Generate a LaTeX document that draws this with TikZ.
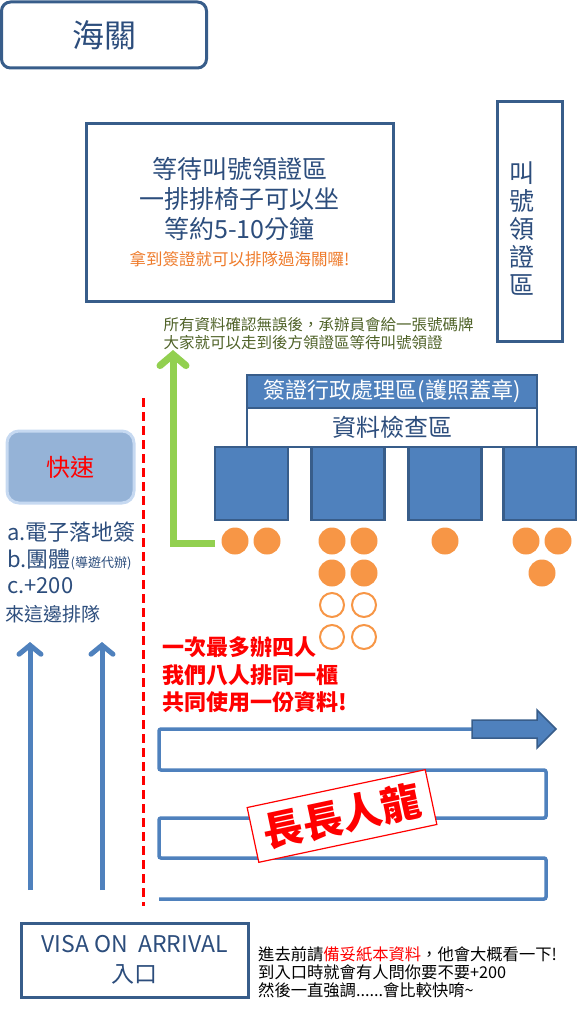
\documentclass[tikz,border=0pt]{standalone}
\usepackage{fontspec}
\setmainfont{Noto Sans CJK TC}
\usetikzlibrary{arrows.meta,positioning}
\definecolor{boxblue}{HTML}{385D8A}
\definecolor{fillblue}{HTML}{4F81BD}
\definecolor{textblue}{HTML}{2C4D7C}
\definecolor{lightblue}{HTML}{95B3D7}
\definecolor{paleblue}{HTML}{C6D9F1}
\definecolor{personorange}{HTML}{F79646}
\definecolor{noteorange}{HTML}{EE7B2B}
\definecolor{arrowgreen}{HTML}{92D050}
\definecolor{notegreen}{HTML}{4F6228}

\begin{document}
\begin{tikzpicture}[x=1pt,y=-1pt]
      \tikzset{frame/.style={draw=boxblue,
          line width=3pt,
          inner sep=0pt,
          text=textblue},
        desk/.style={fill=fillblue,
          draw=boxblue,
          line width=2.5pt,
          minimum width=73pt,
          minimum height=73pt},
        person/.style={circle,
          fill=personorange,
          inner sep=0pt,
          minimum size=27pt},
        waiting/.style={circle,
          draw=personorange,
          line width=2pt,
          inner sep=0pt,
          minimum size=24pt},
        upline/.style={draw=fillblue,
          line width=5pt,
          -{Straight Barb[length=9pt,width=22pt,line cap=round]}}
      }
      \useasboundingbox (0,0) rectangle (576,1024);

      \node [frame,rounded corners=9pt,minimum width=205pt,minimum height=66pt,
        font=\fontsize{32}{36}\selectfont] (customs) at (104,35) {海關};
      \node [frame,minimum width=307pt,minimum height=177pt,align=center,
        font=\fontsize{25}{30}\selectfont] (hall) at (239.5,212.5)
        {等待叫號領證區\\一排排椅子可以坐\\等約5-10分鐘\\[-3pt]
         {\fontsize{16.5}{20}\selectfont\color{noteorange}拿到簽證就可以排隊過海關囉!}};
      \node [frame,minimum width=65pt,minimum height=239pt] (pickup) at (529.5,221.5) {};
      \node [align=center,text=textblue,inner sep=0pt,
        font=\fontsize{25}{28}\selectfont] (pickup text) at (522,229)
        {叫\\號\\領\\證\\區};

      \node [anchor=west,align=left,text=notegreen,
        font=\fontsize{15.5}{18}\selectfont] (afterdesk) at (160,334)
        {所有資料確認無誤後，承辦員會給一張號碼牌\\大家就可以走到後方領證區等待叫號領證};

      \node [frame,fill=fillblue,line width=2.5pt,text=white,minimum width=290pt,
        minimum height=33pt,font=\fontsize{22}{26}\selectfont] (stamp office) at (392,391.5)
        {簽證行政處理區(護照蓋章)};
      \node [frame,fill=white,line width=2.5pt,minimum width=290pt,minimum height=39pt,
        font=\fontsize{24}{28}\selectfont] (check) at (392,427.5) {資料檢查區};

      \node [desk] (desk1) at (251.5,483.5) {};
      \node [desk] (desk2) at (348,483.5) {};
      \node [desk] (desk3) at (445,483.5) {};
      \node [desk] (desk4) at (540,483.5) {};

      \node [person] (p11) at (235,541) {};
      \node [person] (p12) at (267,541) {};
      \node [person] (p21) at (332,541) {};
      \node [person] (p22) at (364,541) {};
      \node [person] (p23) at (332,573) {};
      \node [person] (p24) at (364,573) {};
      \node [waiting] (p25) at (332,605) {};
      \node [waiting] (p26) at (364,605) {};
      \node [waiting] (p27) at (332,637) {};
      \node [waiting] (p28) at (364,637) {};
      \node [person] (p31) at (445,541) {};
      \node [person] (p41) at (526,541) {};
      \node [person] (p42) at (558,541) {};
      \node [person] (p43) at (542,573) {};

      \coordinate (done) at (215,543);
      \coordinate (togo) at (173,350);
      \draw [arrowgreen,line width=7pt,
        -{Straight Barb[length=11pt,width=26pt,line cap=round]}] (done) -| (togo);

      \coordinate (septop) at (143,398);
      \coordinate (sepbottom) at (143,906);
      \draw [red,line width=3pt,dash pattern=on 9pt off 5pt] (septop) -- (sepbottom);

      \node [draw=paleblue,fill=lightblue,line width=3pt,rounded corners=12pt,
        minimum width=127pt,minimum height=72pt,text=red,
        font=\fontsize{24}{28}\selectfont] (fast) at (70.5,467) {快速};
      \node [anchor=west,text=textblue,font=\fontsize{22}{26}\selectfont,inner sep=0pt]
        (fasta) at (7,532) {a.電子落地簽};
      \node [anchor=west,text=textblue,font=\fontsize{22}{26}\selectfont,inner sep=0pt]
        (fastb) at (7,560) {b.團體{\fontsize{13}{16}\selectfont(導遊代辦)}};
      \node [anchor=west,text=textblue,font=\fontsize{22}{26}\selectfont,inner sep=0pt]
        (fastc) at (7,586) {c.+200};
      \node [anchor=west,text=textblue,font=\fontsize{19}{22}\selectfont,inner sep=0pt]
        (fastd) at (5,614) {來這邊排隊};

      \coordinate (lane1in) at (30,890);
      \coordinate (lane1out) at (30,642);
      \coordinate (lane2in) at (102,890);
      \coordinate (lane2out) at (102,642);
      \draw [upline] (lane1in) -- (lane1out);
      \draw [upline] (lane2in) -- (lane2out);

      \node [anchor=west,align=left,text=red,inner sep=0pt,
        font=\bfseries\fontsize{22}{27.5}\selectfont] (rule) at (162,675)
        {一次最多辦四人\\我們八人排同一櫃\\共同使用一份資料!};

      \coordinate (exit) at (472,729);
      \draw [fillblue,line width=3.5pt,rounded corners=2pt]
        (exit) -- (159,729) |- (546,770) |- (159,818) |- (546,858) |- (159,899);
      \draw [fill=fillblue,draw=boxblue,line width=1.5pt]
        (exit) ++(0,-9) -- (537,720) -- (537,710) -- (556,729) -- (537,748)
        -- (537,738) -- (472,738) -- cycle;

      \node [draw=red,fill=white,line width=1.2pt,rotate=12,text=red,
        minimum width=182pt,minimum height=56pt,
        font=\bfseries\fontsize{40}{44}\selectfont] (dragon) at (342,816) {長長人龍};

      \node [frame,minimum width=227pt,minimum height=74pt,align=center,
        font=\fontsize{23}{30}\selectfont] (entrance) at (134.5,960)
        {VISA ON \ ARRIVAL\\入口};
      \node [anchor=west,align=left,inner sep=0pt,
        font=\fontsize{16.3}{18}\selectfont] (tip) at (258,972)
        {進去前請{\color{red}備妥紙本資料}，他會大概看一下!\\
         到入口時就會有人問你要不要+200\\
         然後一直強調......會比較快唷\textasciitilde};
    \end{tikzpicture}
\end{document}
